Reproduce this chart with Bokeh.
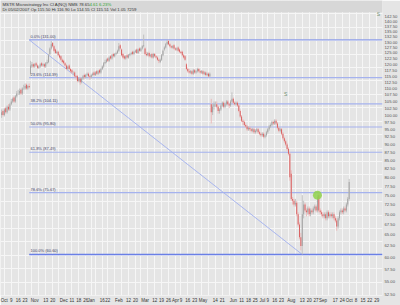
import numpy as np
import pandas as pd
from bokeh.plotting import figure
from bokeh.models import Range1d, FixedTicker, BoxAnnotation, Label, ColumnDataSource, PrintfTickFormatter
from bokeh.embed import file_html
from bokeh.resources import INLINE

# ---------------- data ----------------
first_date = "2006-09-28"
holidays = ["2006-11-23", "2006-12-25", "2007-01-01", "2007-01-02", "2007-01-15",
            "2007-02-19", "2007-04-06", "2007-05-28", "2007-07-04", "2007-09-03",
            "2007-11-22"]

closes = [101, 100, 102, 101, 103, 102,
          104, 105, 106, 105, 107,
          108, 108.5, 109, 108,
          110, 110.5, 111, 110, 111, 110.5,
          119.5, 120,
          119, 120, 119.5, 118.5, 119, 120, 119.5, 120, 119, 120.5, 121,
          124, 127, 129, 128,
          126, 125, 125.5, 124, 123, 122,
          121, 120.5, 119.5, 118, 119, 118, 117,
          116.5, 116, 115, 114.5, 113, 114, 112.5,
          114, 115, 114.5, 115.5, 116, 115, 114.5, 115.5, 116, 115.5, 116.5, 116, 117, 116.5, 118,
          119, 120.5, 121, 122, 121.5, 123, 122.5,
          124, 123.5, 124.5, 125, 126, 128, 127,
          124, 123, 122.5, 123.5, 123, 124, 124.5,
          125, 124.5, 125.5, 126, 125, 126.5, 126, 127, 128,
          128.5,
          124.5, 124, 125, 123.5, 124, 123, 124.5, 123.5, 123, 122, 121.5, 122,
          124, 126, 127.5, 129, 130, 129,
          128, 127.5, 128, 127, 126.5, 127, 126, 125.5,
          125, 124, 123, 122,
          118, 117, 116.5, 117, 116, 117.5, 116.5, 117, 118, 117, 116.5, 117, 116, 116.5, 115.5, 116, 115, 116,
          101, 103, 104,
          104, 103, 101.5, 102, 103.5, 104.5, 103, 104, 105, 104, 103.5,
          105, 106, 104.5, 104, 104.5, 103.5,
          101.5, 99.5, 98, 97.5,
          96.5, 96, 95, 95.5, 95,
          94.5, 95, 94, 94.5, 95, 94, 93.5,
          93, 93.5, 92.5, 93, 94,
          95, 96, 96.5, 97.5, 97, 98, 97,
          95.5, 94.5, 95, 93.5,
          92, 91, 90,
          88.5, 87,
          80, 74,
          73.5, 72.5, 73,
          70, 67.5,
          64.5, 62.5, 70, 72.5,
          71, 70.5, 71.5, 70, 71, 70.5, 71.5, 72, 71,
          74.5, 71,
          70.5, 70, 69.5, 70, 69, 70.5, 69.5, 70,
          69.5, 70, 69, 68.5, 67, 69,
          70.5, 71, 70.5, 71.5, 71,
          72.5, 74.04,
          78.65]

opens = [100, 101.5, 100, 102.5, 101, 103,
         102, 104, 105, 106.5, 105,
         107, 108.5, 108, 109.5,
         108, 110.5, 110, 111.5, 110, 111,
         116, 119,
         120, 119, 120.5, 119.5, 118.5, 119, 120.5, 119.5, 120, 119, 120.5,
         121, 124.5, 127, 129.5,
         128, 126.5, 125, 125.5, 124, 123.5,
         122, 121.5, 120.5, 119.5, 118, 119.5, 118,
         117.5, 116, 116.5, 115, 115, 113, 114,
         112.5, 114, 115.5, 114.5, 115.5, 116, 115, 114.5, 115.5, 116.5, 115.5, 117, 116, 117.5, 116.5,
         118, 119, 120.5, 121, 122.5, 121.5, 123.5,
         122.5, 124.5, 123.5, 124.5, 125, 126, 128.5,
         126.5, 124.5, 123.5, 122.5, 124, 123, 124,
         124.5, 125.5, 124.5, 125.5, 126.5, 125, 127, 126, 127,
         128,
         127, 124.5, 124, 125, 123.5, 124.5, 123, 124.5, 123.5, 123, 122, 121,
         122, 124, 126.5, 127.5, 129, 130.5,
         129, 128, 127.5, 128.5, 127, 126.5, 127.5, 126.5,
         125.5, 125.5, 124, 123.5,
         120, 118, 117, 116.5, 117, 116, 117.5, 116.5, 117, 118, 117, 116.5, 117, 116, 116.5, 115.5, 116, 115,
         104, 101, 103,
         104, 104, 103, 101.5, 102, 103.5, 104.5, 103, 104, 105, 104,
         103.5, 105, 106, 104.5, 104, 104.5,
         103.5, 101.5, 99.5, 98,
         97.5, 96.5, 96, 95, 95.5,
         95, 94.5, 95, 94, 94.5, 95, 94,
         93.5, 93, 93.5, 92.5, 93,
         94, 95, 96, 96.5, 97.5, 97, 98,
         97, 95.5, 94.5, 95,
         93.5, 92, 91,
         90, 88.5,
         87, 81,
         74, 73.5, 72.5,
         73, 70,
         67.5, 64.5, 62.5, 70,
         72.5, 71, 70.5, 71.5, 70, 71, 70.5, 71.5, 72,
         71, 75,
         71, 70.5, 70, 69.5, 70, 69, 70.5, 69.5,
         70, 69.5, 70, 69, 68.5, 67,
         69, 70.5, 71, 70.5, 71.5,
         71, 72.5,
         74]

highs = [102, 102, 102.5, 103, 103.5, 104,
         104.5, 106, 106.5, 107, 107.5,
         109, 109.5, 110, 110,
         110.5, 111.5, 112, 112, 111.5, 112,
         121.5, 121,
         120.5, 120.5, 121, 120, 119.5, 120.5, 121, 120.5, 120.5, 121, 122,
         124.5, 127.5, 130.5, 130,
         128.5, 127, 126, 126, 124.5, 124,
         122.5, 122, 121, 120, 119.5, 120, 118.5,
         118, 117, 117, 115.5, 115.5, 114.5, 114.5,
         114.5, 115.5, 116, 116, 116.5, 116.5, 115.5, 116, 116.5, 117, 117, 117.5, 117.5, 118, 118.5,
         119.5, 121, 122, 122.5, 123, 123.5, 124,
         124.5, 125, 125, 125.5, 126.5, 129.5, 129,
         127, 125, 124, 124, 124.5, 124.5, 125,
         125.5, 126, 126, 126.5, 127, 127, 127.5, 127.5, 128.5,
         133.5,
         127.5, 125.5, 125.5, 125.5, 124.5, 125, 125, 125, 124, 123.5, 122.5, 122.5,
         124.5, 126.5, 128, 129.5, 131, 131,
         129.5, 128.5, 128.5, 129, 127.5, 127.5, 128, 127,
         126, 126, 124.5, 124,
         120.5, 118.5, 118, 117.5, 117.5, 118, 118, 117.5, 118.5, 118.5, 117.5, 117.5, 117.5, 117, 117, 116.5, 116.5, 116.5,
         106, 104, 105,
         105, 105, 103.5, 102.5, 104, 105, 105, 104.5, 105.5, 105.5, 104.5,
         105.5, 108.5, 106.5, 105, 105, 105,
         104, 102, 100, 98.5,
         98, 97, 96.5, 96, 96,
         95.5, 95.5, 95.5, 95, 95.5, 95.5, 94.5,
         94, 94, 94, 93.5, 94.5,
         95.5, 96.5, 97, 98, 98, 98.5, 98.5,
         97.5, 96, 95.5, 95.5,
         94, 92.5, 91.5,
         90.5, 89,
         87.5, 82,
         74.5, 74, 74,
         73.5, 70.5,
         68, 65.5, 75, 73.5,
         73, 71.5, 72, 72, 71.5, 71.5, 72, 72.5, 72.5,
         75, 75.8,
         71.5, 71, 70.5, 70.5, 70.5, 71, 71, 70.5,
         70.5, 70.5, 70.5, 69.5, 69, 69.5,
         71, 71.5, 71.5, 72, 72,
         73, 74.5,
         79.5]

lows = [99, 99.5, 99.5, 100.5, 100.5, 101.5,
        101.5, 103.5, 104.5, 104.5, 104.5,
        106.5, 107.5, 107.5, 107.5,
        107.5, 109.5, 109.5, 109.5, 109.5, 110,
        115.5, 118.5,
        118.5, 118.5, 119, 118, 118, 118.5, 119, 119, 118.5, 118.5, 120,
        120.5, 124, 126.5, 127.5,
        125.5, 124.5, 124.5, 123.5, 122.5, 121.5,
        120.5, 120, 119, 117.5, 117.5, 117.5, 116.5,
        116, 115.5, 114.5, 113.5, 112.5, 112.5, 111.5,
        112, 113.5, 114, 114, 115, 114.5, 113.5, 114, 115, 115, 115, 115.5, 115.5, 116, 116,
        117.5, 118.5, 120, 120.5, 121, 121, 122,
        122, 123, 123, 124, 124.5, 125.5, 126.5,
        123.5, 122.5, 122, 122, 122.5, 122.5, 123.5,
        124, 124, 124, 125, 124.5, 124.5, 125.5, 125.5, 126.5,
        127.5,
        124, 123.5, 123.5, 123, 123, 122.5, 122.5, 123, 122.5, 121.5, 120.5, 120.5,
        121.5, 123.5, 126, 127, 128.5, 128.5,
        127.5, 127, 127, 126.5, 126, 126, 125.5, 125,
        124.5, 123.5, 122.5, 121.5,
        117.5, 116.5, 116, 116, 115.5, 115.5, 116, 116, 116.5, 116.5, 116, 116, 115.5, 115.5, 115, 115, 114.5, 114.5,
        97, 100, 102,
        103, 102.5, 100.5, 100.5, 101.5, 103, 102.5, 102.5, 103.5, 103.5, 102.5,
        103, 104.5, 104, 103.5, 103.5, 103,
        101, 99, 97.5, 96.5,
        96, 95.5, 94.5, 94.5, 94.5,
        94, 94, 93.5, 93.5, 94, 93.5, 93,
        92.5, 92.5, 92, 92, 92.5,
        93.5, 94.5, 95.5, 96, 96.5, 96.5, 96.5,
        95, 94, 94, 93,
        91.5, 90.5, 89.5,
        88, 86.5,
        79, 73.5,
        72.5, 72, 72,
        69.5, 67,
        64, 61.5, 60.6, 69,
        70.5, 69.5, 70, 69.5, 69.5, 70, 70, 71, 70.5,
        70.5, 70.5,
        70, 69.5, 69, 69, 68.5, 68.5, 69, 69,
        69, 69, 68.5, 68, 66, 66.5,
        68.5, 70, 70, 70, 70.5,
        70.5, 72,
        73.5]

y_ticks = [52.5, 55.0, 57.5, 60.0, 62.5, 65.0, 67.5, 70.0, 72.5, 75.0, 77.5, 80.0,
           82.5, 85.0, 87.5, 90.0, 92.5, 95.0, 97.5, 100.0, 102.5, 105.0, 107.5,
           110.0, 112.5, 115.0, 117.5, 120.0, 122.5, 125.0, 127.5, 130.0, 132.5,
           135.0, 137.5, 140.0, 142.5]

x_tick_dates = ["2006-10-02", "2006-10-09", "2006-10-16", "2006-10-23", "2006-11-01",
                "2006-11-13", "2006-11-20", "2006-12-01", "2006-12-11", "2006-12-18",
                "2006-12-26", "2007-01-03", "2007-01-16", "2007-01-22", "2007-02-01",
                "2007-02-12", "2007-02-20", "2007-03-01", "2007-03-12", "2007-03-19",
                "2007-03-26", "2007-04-02", "2007-04-09", "2007-04-16", "2007-04-23",
                "2007-05-01", "2007-05-14", "2007-05-21", "2007-06-01", "2007-06-11",
                "2007-06-18", "2007-06-25", "2007-07-02", "2007-07-09", "2007-07-16",
                "2007-07-23", "2007-08-01", "2007-08-13", "2007-08-20", "2007-08-27",
                "2007-09-04", "2007-09-17", "2007-09-24", "2007-10-01", "2007-10-08",
                "2007-10-15", "2007-10-22", "2007-10-29"]
x_tick_labels = ["Oct", "9", "16", "23", "Nov", "13", "20", "Dec", "11", "18", "26",
                 "Jan", "16", "22", "Feb", "12", "20", "Mar", "12", "19", "26", "Apr",
                 "9", "16", "23", "May", "14", "21", "Jun", "11", "18", "25", "Jul",
                 "9", "16", "23", "Aug", "13", "20", "27", "Sep", "17", "24", "Oct",
                 "8", "15", "22", "29"]

fib_ratios = [0.0, 0.236, 0.382, 0.5, 0.618, 0.786, 1.0]
fib_high = 131.0
fib_low = 60.6
fib_start_date = "2006-10-26"
fib_low_date = "2007-08-13"
alert_date = "2007-08-28"   # green circle on the 78.6% retracement

title_main = "MSTR Microstrategy Inc Cl A(NQ) NMS  78.65"
title_change = "4.61   6.23%"
title_line2 = "Dt 05/02/2007  Op 115.50  Hi 116.90  Lo 114.55  Cl 115.51  Vol 1.05  7259"

# ---------------- build ----------------
cal = pd.bdate_range(first_date, "2007-11-05", freq="C", holidays=holidays)
idx_of = {d.strftime("%Y-%m-%d"): i for i, d in enumerate(cal)}
n = len(closes)
xs = np.arange(n)

o = np.array(opens, float); c = np.array(closes, float)
h = np.array(highs, float); l = np.array(lows, float)
up = c >= o
body_col = np.where(up, "#a3a3a3", "#d95f5f")
wick_col = np.where(up, "#c0c0c0", "#ebb9b9")
src = ColumnDataSource(dict(x=xs, o=o, c=c, h=h, l=l,
                            top=np.maximum(o, c), bot=np.minimum(o, c),
                            bc=body_col, wc=wick_col))

x0 = -0.8
x1 = x0 + 385 / 1.39
p = figure(width=400, height=305, y_axis_type="log", output_backend="svg",
           toolbar_location=None, y_axis_location="right",
           x_range=Range1d(x0, x1), y_range=Range1d(52.3, 150.9),
           min_border_left=0, min_border_right=0, min_border_top=0, min_border_bottom=0)
p.background_fill_color = "#e5e5e5"
p.border_fill_color = "#e5e5e5"
p.outline_line_color = None

# grids
week_starts = [i for i in range(1, len(cal)) if cal[i].weekday() < cal[i - 1].weekday()]
p.xgrid.ticker = FixedTicker(ticks=week_starts)
p.xgrid.grid_line_color = "#f6f6f6"
p.xgrid.grid_line_width = 1
lo_g, hi_g = np.log(52.3), np.log(150.9)
grid_vals = list(np.exp(np.arange(lo_g, hi_g, 13.5 / 297 * (hi_g - lo_g))))
p.ygrid.ticker = FixedTicker(ticks=grid_vals)
p.ygrid.grid_line_color = "#f6f6f6"
p.ygrid.grid_line_width = 1

# axes
p.yaxis.ticker = FixedTicker(ticks=y_ticks)
p.yaxis.formatter = PrintfTickFormatter(format="%.2f")
p.yaxis.major_label_text_font = "Liberation Sans"
p.yaxis.major_label_text_font_size = "4.2px"
p.yaxis.major_label_text_color = "#555555"
p.yaxis.major_tick_out = 0
p.yaxis.major_tick_in = 0
p.yaxis.minor_tick_out = 0
p.yaxis.minor_tick_in = 0
p.yaxis.axis_line_color = None
p.yaxis.major_label_standoff = 2

tick_idx = [idx_of[d] for d in x_tick_dates]
p.xaxis.ticker = FixedTicker(ticks=tick_idx)
p.xaxis.major_label_overrides = {t: s for t, s in zip(tick_idx, x_tick_labels)}
p.xaxis.major_label_text_font = "Liberation Sans"
p.xaxis.major_label_text_font_size = "4.5px"
p.xaxis.major_label_text_color = "#333333"
p.xaxis.major_label_text_align = "left"
p.xaxis.major_tick_out = 0
p.xaxis.major_tick_in = 0
p.xaxis.minor_tick_out = 0
p.xaxis.axis_line_color = None
p.xaxis.major_label_standoff = 2

# fibonacci retracement
fs = idx_of[fib_start_date]
fl = idx_of[fib_low_date]
p.line([fs, fl], [fib_high, fib_low], line_color="#a9b6ef", line_width=1)
for r in fib_ratios:
    lvl = fib_high - r * (fib_high - fib_low)
    col = "#6a7fe6" if r == 1.0 else ("#8d9de9" if r == 0.0 else "#a5b2ee")
    lw = 1.6 if r == 1.0 else 1.2
    p.segment(x0=[fs], y0=[lvl], x1=[x1], y1=[lvl], line_color=col, line_width=lw)
    p.add_layout(Label(x=fs + 1, y=lvl, text=f"{r*100:.1f}% ({lvl:.2f})",
                       text_font="Liberation Sans", text_font_size="4px",
                       text_color="#444466", text_baseline="bottom", y_offset=1))

# candles
p.segment(x0="x", y0="h", x1="x", y1="l", line_color="wc", line_width=1, source=src)
p.vbar(x="x", width=0.7, top="top", bottom="bot", fill_color="bc", line_color=None,
       source=src)

# alert marker
ai = idx_of[alert_date]
p.scatter([ai], [h[ai]], size=9, fill_color="#8fd24a", fill_alpha=0.85, line_color=None)

p.add_layout(Label(x=206, y=107.9, text="S", text_font="Liberation Sans",
                   text_font_size="5px", text_color="#6f8f6f",
                   text_align="center", text_baseline="middle"))
p.add_layout(Label(x=x1 - 3, y=143.6, text="S", text_font="Liberation Sans",
                   text_font_size="5px", text_color="#6f8f6f",
                   text_align="center", text_baseline="middle"))

# header band
p.add_layout(BoxAnnotation(bottom=144.6, fill_color="#d7d7d7", fill_alpha=1,
                           line_color=None))
p.add_layout(Label(x=2, y=149.0, x_units="screen", text=title_main,
                   text_font="Liberation Sans", text_font_size="4.3px",
                   text_color="#333333", text_baseline="middle"))
p.add_layout(Label(x=89, y=149.0, x_units="screen", text=title_change,
                   text_font="Liberation Sans", text_font_size="4.3px",
                   text_color="#2fa52f", text_baseline="middle"))
p.add_layout(Label(x=2, y=145.9, x_units="screen", text=title_line2,
                   text_font="Liberation Sans", text_font_size="4.3px",
                   text_color="#333333", text_baseline="middle"))

open("out.html", "w").write(file_html(p, INLINE))
